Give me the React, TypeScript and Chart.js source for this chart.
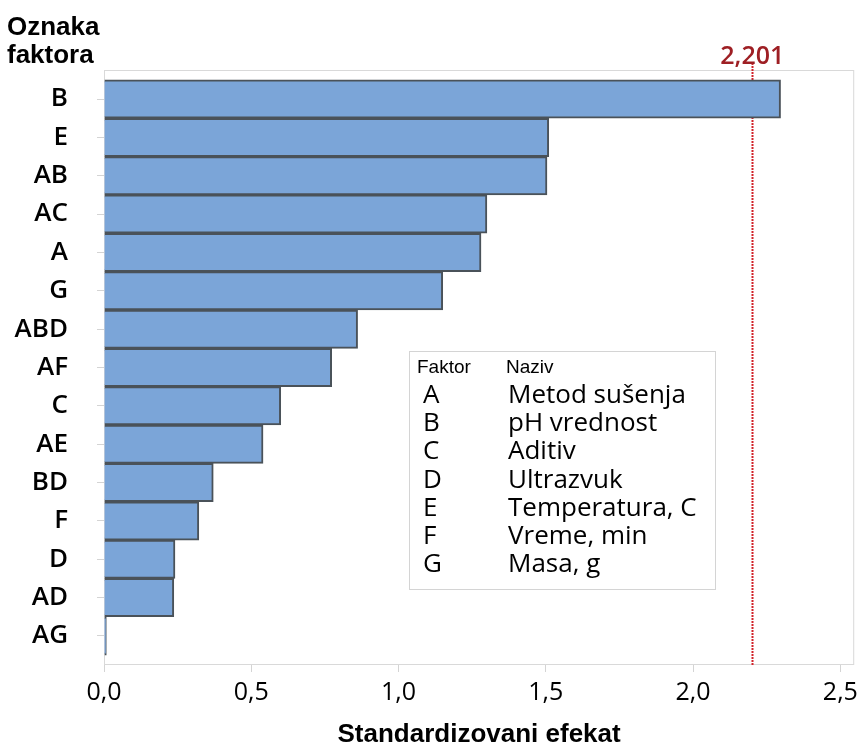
import React, { useEffect, useRef } from 'react';
import { Chart, registerables } from 'chart.js';

Chart.register(...registerables);

const factorLabels = ['B', 'E', 'AB', 'AC', 'A', 'G', 'ABD', 'AF', 'C', 'AE', 'BD', 'F', 'D', 'AD', 'AG'];
const effectValues = [2.297, 1.51, 1.504, 1.3, 1.28, 1.15, 0.861, 0.773, 0.6, 0.54, 0.371, 0.322, 0.241, 0.237, 0.008];
const xTickValues = [0, 0.5, 1, 1.5, 2, 2.5];
const criticalValue = 2.201;
const criticalLabel = '2,201';
const legendCodes = ['A', 'B', 'C', 'D', 'E', 'F', 'G'];
const legendNames = ['Metod sušenja', 'pH vrednost', 'Aditiv', 'Ultrazvuk', 'Temperatura, C', 'Vreme, min', 'Masa, g'];
const yTitleLines = ['Oznaka', 'faktora'];
const xTitle = 'Standardizovani efekat';

const fmt = (v: number) => v.toFixed(1).replace('.', ',');

const annotPlugin = {
  id: 'annot',
  beforeDatasetsDraw(chart: any) {
    const { ctx, chartArea: a, scales } = chart;
    const x = scales.x;
    ctx.save();
    ctx.strokeStyle = '#d9d9d9';
    ctx.lineWidth = 1;
    ctx.strokeRect(a.left + 0.5, a.top + 0.5, a.right - a.left - 1, a.bottom - a.top - 1);
    const cx = Math.round(x.getPixelForValue(criticalValue)) + 0.5;
    ctx.strokeStyle = '#d2232a';
    ctx.lineWidth = 2;
    ctx.setLineDash([2, 1]);
    ctx.beginPath();
    ctx.moveTo(cx, a.top - 7);
    ctx.lineTo(cx, a.bottom);
    ctx.stroke();
    ctx.restore();
  },
  afterDraw(chart: any) {
    const { ctx, chartArea: a, scales } = chart;
    const x = scales.x;
    ctx.save();
    ctx.fillStyle = '#9e1f24';
    ctx.font = '600 25px "Open Sans"';
    ctx.textAlign = 'center';
    ctx.textBaseline = 'alphabetic';
    ctx.fillText(criticalLabel, x.getPixelForValue(criticalValue), 64);
    ctx.fillStyle = '#000';
    ctx.font = 'bold 26px "Liberation Sans"';
    ctx.textAlign = 'left';
    ctx.fillText(yTitleLines[0], 7, 35);
    ctx.fillText(yTitleLines[1], 7, 63);
    ctx.textAlign = 'center';
    ctx.fillText(xTitle, (a.left + a.right) / 2, 742);
    ctx.fillStyle = '#fff';
    ctx.fillRect(409, 351, 306, 238);
    ctx.strokeStyle = '#d4d4d4';
    ctx.lineWidth = 1;
    ctx.strokeRect(409.5, 351.5, 306, 238);
    ctx.fillStyle = '#000';
    ctx.textAlign = 'left';
    ctx.font = '19px "Liberation Sans"';
    ctx.fillText('Faktor', 417, 373);
    ctx.fillText('Naziv', 506, 373);
    ctx.font = '26px "Open Sans"';
    legendCodes.forEach((c, i) => {
      const y = 403 + i * 28.2;
      ctx.fillText(c, 423, y);
      ctx.fillText(legendNames[i], 508, y);
    });
    ctx.restore();
  },
};

export default function App() {
  const ref = useRef<HTMLCanvasElement>(null);
  useEffect(() => {
    if (!ref.current) return;
    const chart = new Chart(ref.current, {
      type: 'bar',
      data: {
        datasets: [
          {
            data: effectValues.map((v, i) => ({ x: v, y: i })) as any,
            backgroundColor: '#7ba5d8',
            borderColor: '#4a5259',
            borderWidth: 2,
            barPercentage: 1,
            categoryPercentage: 1,
          },
        ],
      },
      options: {
        indexAxis: 'y',
        responsive: false,
        animation: false,
        layout: { padding: { top: 70, right: 6, left: 0, bottom: 0 } },
        plugins: { legend: { display: false }, tooltip: { enabled: false } },
        scales: {
          x: {
            type: 'linear',
            position: 'bottom',
            min: 0,
            max: 2.547,
            offset: false,
            afterBuildTicks: (s: any) => {
              s.ticks = xTickValues.map((v) => ({ value: v }));
            },
            afterFit: (s: any) => {
              s.height = 79;
            },
            grid: { offset: false, drawOnChartArea: false, drawTicks: true, tickLength: 7, color: '#d4d4d4' },
            border: { display: false },
            ticks: {
              font: { family: 'Open Sans', size: 25 },
              color: '#000',
              padding: 6,
              maxRotation: 0,
              autoSkip: false,
              callback: (v: any) => fmt(Number(v)),
            },
          },
          y: {
            type: 'linear',
            reverse: true,
            offset: false,
            min: -0.757,
            max: factorLabels.length - 1 + 0.757,
            afterBuildTicks: (s: any) => {
              s.ticks = factorLabels.map((_, i) => ({ value: i }));
            },
            afterFit: (s: any) => {
              s.width = 104;
            },
            grid: { offset: false, drawOnChartArea: false, drawTicks: true, tickLength: 7, color: '#d4d4d4' },
            border: { display: false },
            ticks: {
              font: { family: 'Open Sans', size: 26, weight: '600' },
              color: '#000',
              padding: 29,
              autoSkip: false,
              callback: (v: any) => factorLabels[Number(v)] ?? '',
            },
          },
        },
      } as any,
      plugins: [annotPlugin],
    });
    return () => chart.destroy();
  }, []);
  return (
    <div style={{ position: 'absolute', left: 0, top: 0, width: 864, height: 744, background: '#fff' }}>
      <canvas ref={ref} width={864} height={744} style={{ display: 'block' }} />
    </div>
  );
}
